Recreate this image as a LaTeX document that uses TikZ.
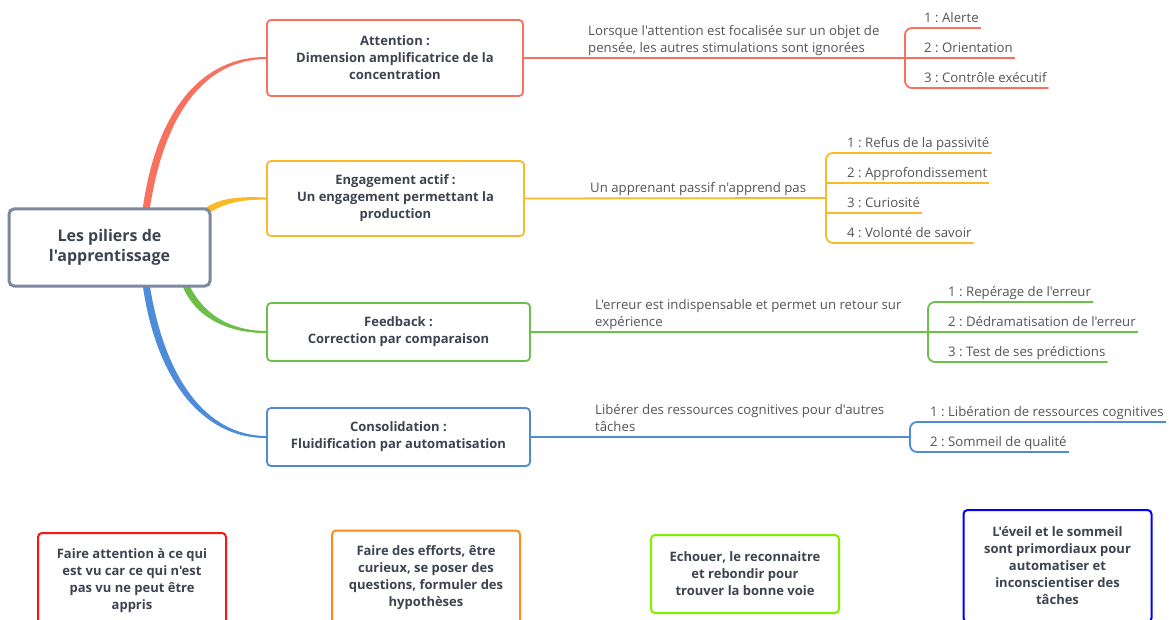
\documentclass[tikz,border=0pt]{standalone}
\usepackage{fontspec}
\setmainfont{Open Sans}[Ligatures=TeXOff]
\frenchspacing
\usetikzlibrary{calc,backgrounds}
\definecolor{attc}{HTML}{F8705E}
\definecolor{engc}{HTML}{FBB829}
\definecolor{feedc}{HTML}{6CC04A}
\definecolor{consc}{HTML}{4E8CD9}
\definecolor{rootc}{HTML}{7D889F}
\definecolor{titlec}{HTML}{3E4350}
\definecolor{itemc}{HTML}{555555}
\definecolor{noteAc}{HTML}{FF1414}
\definecolor{noteEc}{HTML}{FF8C1A}
\definecolor{noteFc}{HTML}{80F000}
\definecolor{noteCc}{HTML}{0000F5}
\tikzset{
  rootbox/.style={draw=rootc, line width=3pt, rounded corners=5pt, fill=white, align=center,
    minimum width=201pt, minimum height=77pt, text=titlec, font=\fontsize{16}{20}\selectfont\bfseries},
  pillar/.style={draw=#1, line width=1.8pt, rounded corners=4pt, fill=white, align=center,
    text=titlec, font=\fontsize{13}{17}\selectfont\bfseries},
  sub/.style={draw=#1, line width=1.8pt},
  item/.style={anchor=south west, inner xsep=2pt, inner ysep=2.5pt, text depth=.25em,
    text=itemc, font=\fontsize{13.2}{17.5}\selectfont},
  expl/.style={item, align=left},
  notebox/.style={draw=#1, line width=2pt, rounded corners=4pt, align=center, minimum width=188pt,
    text=titlec, font=\fontsize{13}{17}\selectfont\bfseries},
}
\begin{document}
\begin{tikzpicture}[x=1pt,y=-1pt]
\useasboundingbox (0,0) rectangle (1169,620);
\clip (0,0) rectangle (1169,620);
% racine et piliers
\node[rootbox] (root) at (109.5,247.5) {Les piliers de\\l'apprentissage};
\node[pillar=attc, minimum width=256pt, minimum height=76pt] (att) at (395,58) {Attention :\\Dimension amplificatrice de la\\concentration};
\node[pillar=engc, minimum width=257pt, minimum height=75pt] (eng) at (395.5,198.5) {Engagement actif :\\Un engagement permettant la\\production};
\node[pillar=feedc, minimum width=263pt, minimum height=58pt] (feed) at (398.5,332) {Feedback :\\Correction par comparaison};
\node[pillar=consc, minimum width=263pt, minimum height=58pt] (cons) at (398.5,437) {Consolidation :\\Fluidification par automatisation};
% branches effilees
\begin{scope}[on background layer]
\fill[white] (0,0) rectangle (1169,620);
\fill[attc] ($(root.north)+(33,3)$) .. controls (156,108) and (204,56.5) .. ([yshift=1pt]att.west)
  -- ([yshift=-1pt]att.west) .. controls (206,59.5) and (164,112) .. ($(root.north)+(40,3)$) -- cycle;
\fill[engc] ($(root.north east)+(-12,4.5)$) .. controls (218,197) and (240,196.5) .. ([yshift=1pt]eng.west)
  -- ([yshift=-1pt]eng.west) .. controls (240,199.5) and (222,203) .. ($(root.north east)+(-8,9.5)$) -- cycle;
\fill[feedc] ($(root.south)+(78.5,-5)$) .. controls (202,313) and (228,330.5) .. ([yshift=1pt]feed.west)
  -- ([yshift=-1pt]feed.west) .. controls (228,333.5) and (194,317) .. ($(root.south)+(72.5,-3)$) -- cycle;
\fill[consc] ($(root.south)+(40,-4)$) .. controls (164,378) and (206,435.5) .. ([yshift=1pt]cons.west)
  -- ([yshift=-1pt]cons.west) .. controls (204,438.5) and (156,382) .. ($(root.south)+(33,-4)$) -- cycle;
\end{scope}
% Attention
\coordinate (attB) at (905,58);
\node[expl] (attT) at (586,58) {Lorsque l'attention est focalisée sur un objet de\\pensée, les autres stimulations sont ignorées};
\node[item] (att1) at (922,28) {1 : Alerte};
\node[item] (att2) at (922,58) {2 : Orientation};
\node[item] (att3) at (922,88) {3 : Contrôle exécutif};
\draw[sub=attc] (att.east) -- (attB);
\draw[sub=attc, rounded corners=7pt] (att1.south east) -- (att1.south east -| attB) -- (att3.south east -| attB) -- (att3.south east);
\draw[sub=attc] (att2.south east -| attB) -- (att2.south east);
% Engagement
\coordinate (engB) at (826,198);
\node[expl] (engT) at (588,198) {Un apprenant passif n'apprend pas};
\node[item] (eng1) at (845,153) {1 : Refus de la passivité};
\node[item] (eng2) at (845,183) {2 : Approfondissement};
\node[item] (eng3) at (845,213) {3 : Curiosité};
\node[item] (eng4) at (845,243) {4 : Volonté de savoir};
\draw[sub=engc] (eng.east) -- (engB);
\draw[sub=engc, rounded corners=7pt] (eng1.south east) -- (eng1.south east -| engB) -- (eng4.south east -| engB) -- (eng4.south east);
\draw[sub=engc] (eng2.south east -| engB) -- (eng2.south east);
\draw[sub=engc] (eng3.south east -| engB) -- (eng3.south east);
% Feedback
\coordinate (feedB) at (928,332);
\node[expl] (feedT) at (593,332) {L'erreur est indispensable et permet un retour sur\\expérience};
\node[item] (feed1) at (946,302) {1 : Repérage de l'erreur};
\node[item] (feed2) at (946,332) {2 : Dédramatisation de l'erreur};
\node[item] (feed3) at (946,362) {3 : Test de ses prédictions};
\draw[sub=feedc] (feed.east) -- (feedB);
\draw[sub=feedc, rounded corners=7pt] (feed1.south east) -- (feed1.south east -| feedB) -- (feed3.south east -| feedB) -- (feed3.south east);
\draw[sub=feedc] (feed2.south east -| feedB) -- (feed2.south east);
% Consolidation
\coordinate (consB) at (910,437);
\node[expl] (consT) at (593,437) {Libérer des ressources cognitives pour d'autres\\tâches};
\node[item] (cons1) at (928,422) {1 : Libération de ressources cognitives};
\node[item] (cons2) at (928,452) {2 : Sommeil de qualité};
\draw[sub=consc] (cons.east) -- (consB);
\draw[sub=consc, rounded corners=7pt] (cons1.south east) -- (cons1.south east -| consB) -- (cons2.south east -| consB) -- (cons2.south east);
% encadres du bas
\node[notebox=noteAc, minimum height=96pt] (noteA) at (132,581) {Faire attention à ce qui\\est vu car ce qui n'est\\pas vu ne peut être\\appris};
\node[notebox=noteEc, minimum height=95pt] (noteE) at (426,578) {Faire des efforts, être\\curieux, se poser des\\questions, formuler des\\hypothèses};
\node[notebox=noteFc, minimum height=78pt] (noteF) at (745,574) {Echouer, le reconnaitre\\et rebondir pour\\trouver la bonne voie};
\node[notebox=noteCc, minimum height=112pt] (noteC) at (1057.5,566) {L'éveil et le sommeil\\sont primordiaux pour\\automatiser et\\inconscientiser des\\tâches};
\end{tikzpicture}
\end{document}
